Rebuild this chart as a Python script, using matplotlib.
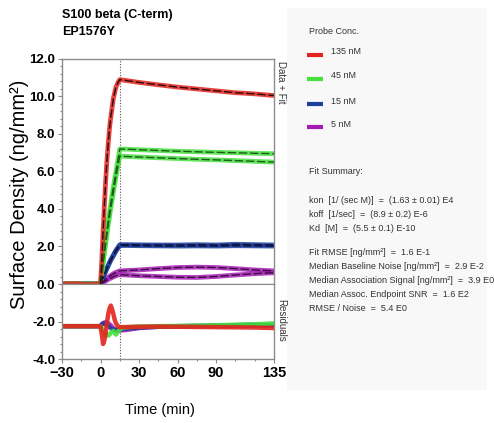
import matplotlib
matplotlib.use("Agg")
import matplotlib.pyplot as plt
from matplotlib.ticker import MultipleLocator, FixedLocator

SANS = ["Liberation Sans", "DejaVu Sans"]

# sensorgram data (time in min, surface density in ng/mm^2)
t = [-30, -20, -10, 0, 1, 2, 3, 4, 5, 6, 7, 8, 10, 12, 14, 15,
     20, 30, 45, 60, 75, 90, 105, 120, 135]
red = [0, 0.02, -0.02, 0, 1.3, 2.8, 4.2, 5.5, 6.6, 7.5, 8.3, 8.9, 9.9, 10.5, 10.8, 10.9,
       10.85, 10.75, 10.62, 10.5, 10.4, 10.3, 10.2, 10.14, 10.05]
green_hi = [0, 0.01, 0, 0, 0.6, 1.2, 1.75, 2.3, 2.85, 3.35, 3.85, 4.3, 5.2, 6.0, 6.8, 7.2,
            7.19, 7.16, 7.12, 7.08, 7.05, 7.02, 7.0, 6.97, 6.95]
green_lo = [0, 0.01, 0, 0, 0.55, 1.1, 1.65, 2.15, 2.65, 3.15, 3.6, 4.05, 4.9, 5.7, 6.45, 6.82,
            6.8, 6.77, 6.73, 6.69, 6.65, 6.62, 6.58, 6.54, 6.5]
blue_hi = [0, 0, 0.01, 0, 0.18, 0.35, 0.52, 0.7, 0.85, 1.0, 1.15, 1.3, 1.55, 1.8, 2.0, 2.1,
           2.1, 2.09, 2.08, 2.08, 2.1, 2.08, 2.12, 2.1, 2.08]
blue_lo = [0, 0, 0, 0, 0.17, 0.34, 0.5, 0.67, 0.82, 0.97, 1.12, 1.26, 1.5, 1.75, 1.95, 2.05,
           2.05, 2.04, 2.03, 2.02, 2.03, 2.02, 2.04, 2.03, 2.02]
mag_hi = [0, 0, 0, 0, 0.06, 0.12, 0.18, 0.24, 0.3, 0.36, 0.41, 0.46, 0.55, 0.62, 0.68, 0.7,
          0.72, 0.75, 0.82, 0.88, 0.9, 0.88, 0.82, 0.75, 0.7]
mag_lo = [0, 0, 0, 0, 0.04, 0.08, 0.12, 0.16, 0.2, 0.24, 0.28, 0.31, 0.38, 0.44, 0.48, 0.5,
          0.48, 0.44, 0.4, 0.36, 0.35, 0.4, 0.48, 0.55, 0.6]

# residuals (offset panel)
t_res = [-30, -10, 0, 1, 2, 3, 4, 5, 6, 7, 8, 9, 10, 11, 12, 13, 14, 15,
         20, 30, 45, 60, 90, 120, 135]
res_red = [-2.25, -2.25, -2.25, -2.7, -3.2, -3.0, -2.6, -2.1, -1.6, -1.3, -1.15, -1.35, -1.6,
           -1.9, -2.1, -2.2, -2.28, -2.3, -2.3, -2.28, -2.27, -2.28, -2.3, -2.32, -2.35]
res_green = [-2.25, -2.25, -2.25, -2.35, -2.5, -2.6, -2.7, -2.75, -2.75, -2.7, -2.6, -2.55,
             -2.5, -2.6, -2.7, -2.6, -2.5, -2.4, -2.3, -2.27, -2.25, -2.24, -2.2, -2.15, -2.1]
res_blue = [-2.25, -2.25, -2.25, -2.15, -2.1, -2.1, -2.15, -2.2, -2.25, -2.3, -2.35, -2.4,
            -2.42, -2.45, -2.45, -2.45, -2.45, -2.42, -2.38, -2.32, -2.28, -2.25, -2.22, -2.17, -2.2]
res_mag = [-2.25, -2.25, -2.25, -2.15, -2.1, -2.05, -2.05, -2.05, -2.1, -2.15, -2.2, -2.3,
           -2.35, -2.4, -2.45, -2.5, -2.5, -2.48, -2.45, -2.35, -2.28, -2.25, -2.24, -2.22, -2.22]

conc_labels = ["135 nM", "45 nM", "15 nM", "5 nM"]
colors = ["#e3231d", "#44e03c", "#1f3f9e", "#a21db0"]
fit_colors = ["#2a0a0a", "#1f5a1c", "#0a1440", "#3d0a45"]

summary = [
    "kon  [1/ (sec M)]  =  (1.63 \u00b1 0.01) E4",
    "koff  [1/sec]  =  (8.9 \u00b1 0.2) E-6",
    "Kd  [M]  =  (5.5 \u00b1 0.1) E-10",
    "",
    "Fit RMSE [ng/mm\u00b2]  =  1.6 E-1",
    "Median Baseline Noise [ng/mm\u00b2]  =  2.9 E-2",
    "Median Association Signal [ng/mm\u00b2]  =  3.9 E0",
    "Median Assoc. Endpoint SNR  =  1.6 E2",
    "RMSE / Noise  =  5.4 E0",
]

fig = plt.figure(figsize=(4.94, 4.23), dpi=100)
fig.patch.set_facecolor("white")

# right-hand legend / fit summary panel (behind the plot axes)
panel = fig.add_axes([287 / 494, 1 - 390 / 423, 200 / 494, 382 / 423])
panel.set_zorder(-1)

ax = fig.add_axes([0.1255, 0.3286, 0.429, 0.532])
axr = fig.add_axes([0.1255, 0.1513, 0.429, 0.1773], sharex=ax)

series = [(red, None), (green_hi, green_lo), (blue_hi, blue_lo), (mag_hi, mag_lo)]
# lowest concentration first so red sits on top
for i in [3, 2, 1, 0]:
    hi, lo = series[i]
    for s in [hi, lo]:
        if s is None:
            continue
        ax.plot(t, s, color=colors[i], lw=3.4, alpha=0.85, solid_capstyle="butt", zorder=2)
        ax.plot(t[3:], s[3:], color=fit_colors[i], lw=1.0, ls=(0, (6, 2)), zorder=3)

for res, c in zip([res_mag, res_blue, res_green, res_red], [colors[3], colors[2], colors[1], colors[0]]):
    axr.plot(t_res, res, color=c, lw=3.2, alpha=0.9, zorder=2)

for a in (ax, axr):
    a.axvline(15, color="#555555", lw=0.8, ls=(0, (1, 1.5)), zorder=1)
    for sp in a.spines.values():
        sp.set_color("#8c8c8c")
        sp.set_linewidth(1.0)
    a.tick_params(which="both", color="#8c8c8c", direction="out", length=3, width=0.8)
    a.tick_params(which="minor", length=1.5)
    a.yaxis.set_minor_locator(MultipleLocator(0.4))

ax.set_xlim(-30, 135)
ax.set_ylim(0, 12)
axr.set_ylim(-4, 0)
ax.set_yticks([0, 2, 4, 6, 8, 10, 12])
ax.set_yticklabels(["0.0", "2.0", "4.0", "6.0", "8.0", "10.0", "12.0"])
axr.set_yticks([-4, -2])
axr.set_yticklabels(["-4.0", "-2.0"])
axr.set_xticks([-30, 0, 30, 60, 90, 135])
axr.xaxis.set_minor_locator(FixedLocator([-15, 15, 45, 75, 105, 120]))
ax.tick_params(axis="x", which="both", bottom=False, labelbottom=False)
axr.spines["top"].set_linewidth(0.8)

for a in (ax, axr):
    for lab in a.get_yticklabels():
        lab.set_family(SANS)
        lab.set_fontweight("bold")
        lab.set_fontsize(9.5)
for lab in axr.get_xticklabels():
    lab.set_family(SANS)
    lab.set_fontweight("bold")
    lab.set_fontsize(10.5)
axr.tick_params(axis="x", pad=2)
ax.tick_params(axis="y", pad=2)
axr.tick_params(axis="y", pad=2)

ax.text(1.01, 0.99, "Data + Fit", transform=ax.transAxes, rotation=270, va="top", ha="left",
        fontsize=7, family=SANS, color="#333333")
axr.text(1.01, 0.8, "Residuals", transform=axr.transAxes, rotation=270, va="top", ha="left",
         fontsize=7, family=SANS, color="#333333")

fig.text(62 / 494, 1 - 15 / 423, "S100 beta (C-term)", fontsize=9, fontweight="bold",
         family=SANS, va="center", ha="left")
fig.text(62 / 494, 1 - 32 / 423, "EP1576Y", fontsize=9, fontweight="bold",
         family=SANS, va="center", ha="left")
fig.text(20 / 494, 1 - 194 / 423, "Surface Density (ng/mm\u00b2)", rotation=90, fontsize=14.5,
         family=SANS, va="center", ha="center")
fig.text(160 / 494, 1 - 410 / 423, "Time (min)", fontsize=10.5, family=SANS,
         va="center", ha="center")

panel.set_xlim(0, 200)
panel.set_ylim(390, 8)
panel.set_facecolor("#f8f8f8")
for sp in panel.spines.values():
    sp.set_visible(False)
panel.set_xticks([])
panel.set_yticks([])

TXT = dict(fontsize=6.5, family=SANS, va="center", color="#333333")
panel.text(309 - 287, 32, "Probe Conc.", **TXT)
for i, (lab, c) in enumerate(zip(conc_labels, colors)):
    y = [52, 76, 101, 124][i]
    panel.plot([307 - 287, 323 - 287], [y + 3, y + 3], color=c, lw=3, solid_capstyle="butt")
    panel.text(331 - 287, y, lab, **TXT)

panel.text(309 - 287, 171, "Fit Summary:", **TXT)
for k, line in enumerate(summary):
    panel.text(309 - 287, 200 + 14 * k - (4 if k > 3 else 0), line, **TXT)

fig.savefig("out.png", dpi=100)
